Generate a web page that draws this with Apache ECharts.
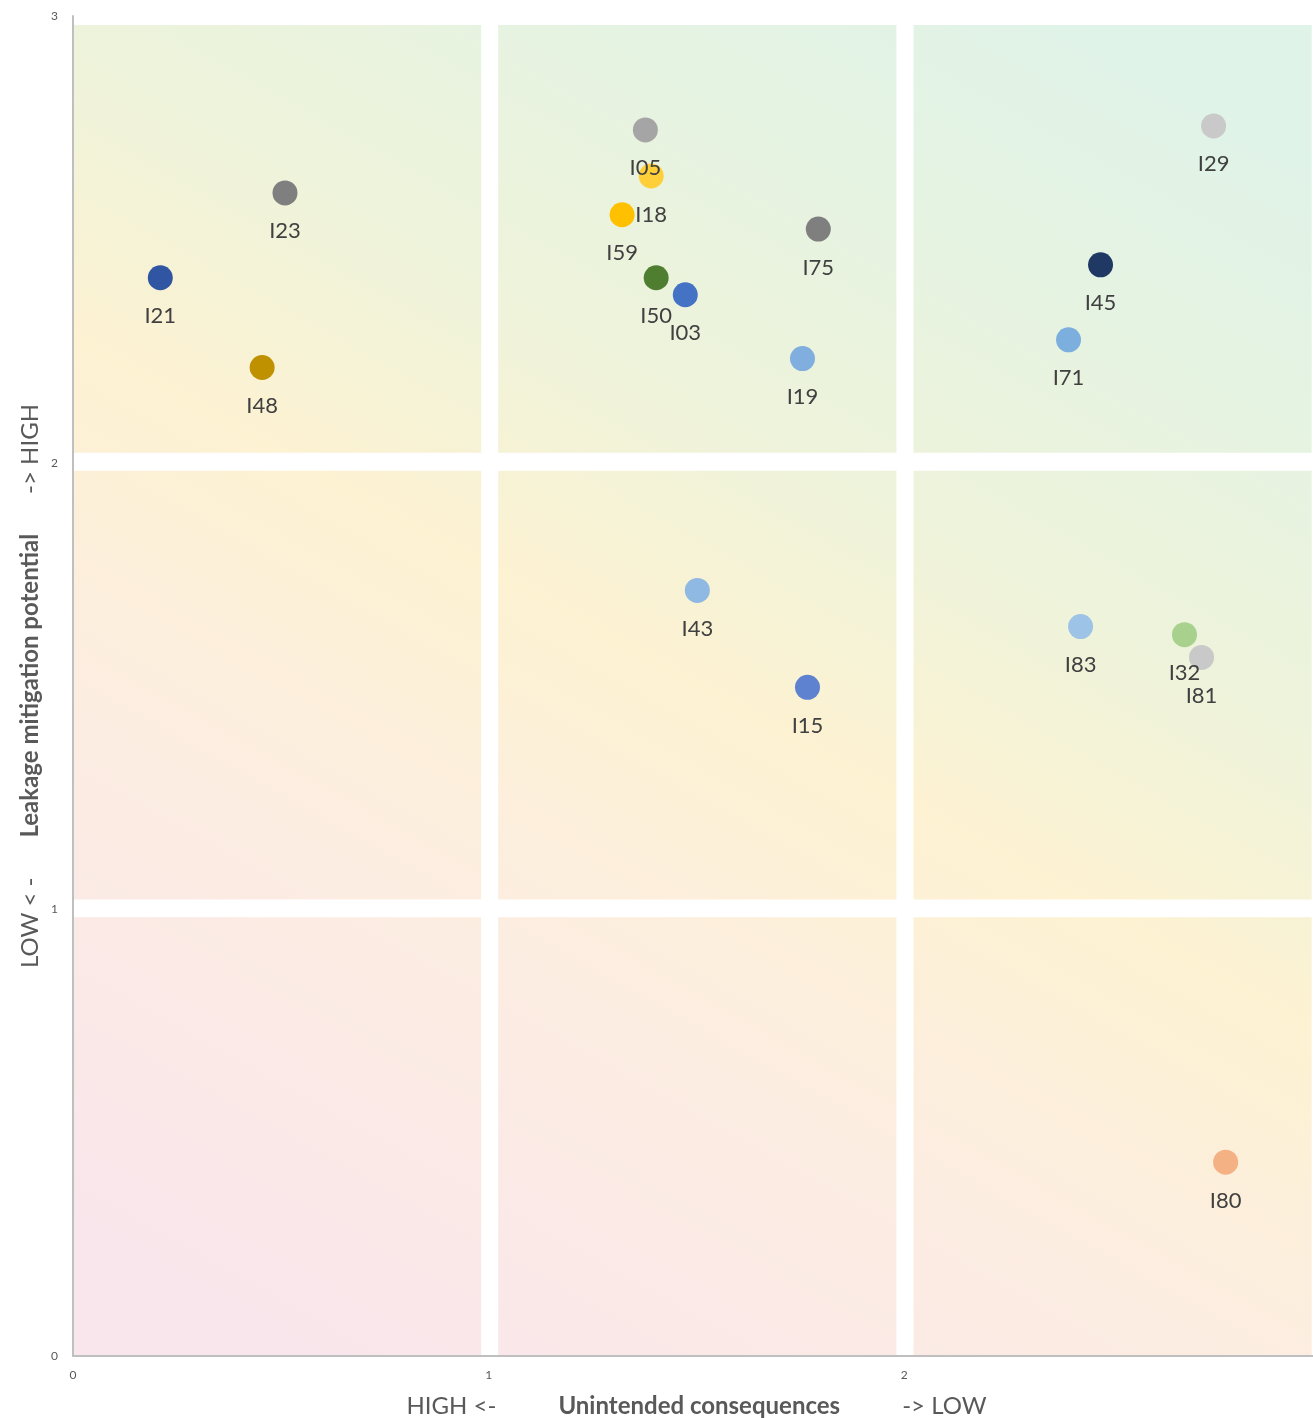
<!DOCTYPE html>
<html>
<head>
<meta charset="utf-8">
<title>Leakage mitigation vs unintended consequences</title>
<script src="https://cdn.jsdelivr.net/npm/echarts@6/dist/echarts.min.js"></script>
<style>
  html, body { margin: 0; padding: 0; background: #fff; }
  #main { width: 1313px; height: 1418px; }
</style>
</head>
<body>
<div id="main"></div>
<script>
// measures
var names  = ['I21', 'I23', 'I48', 'I05', 'I18', 'I59', 'I50', 'I03', 'I75', 'I19',
              'I29', 'I45', 'I71', 'I43', 'I15', 'I83', 'I32', 'I81', 'I80'];
var consequences = [0.21, 0.51, 0.455, 1.377, 1.391, 1.321, 1.403, 1.473, 1.793, 1.755,
                    2.744, 2.472, 2.395, 1.502, 1.767, 2.424, 2.674, 2.715, 2.773];
var mitigation   = [2.414, 2.604, 2.213, 2.745, 2.642, 2.555, 2.414, 2.376, 2.523, 2.233,
                    2.754, 2.443, 2.275, 1.714, 1.497, 1.633, 1.615, 1.564, 0.434];
var pointColors  = ['#2F55A3', '#7F7F7F', '#BF9000', '#A5A5A5', '#FFCF3A', '#FFC000', '#507E31',
                    '#4472C4', '#7F7F7F', '#7FAEDF', '#C9C9C9', '#203864', '#7CAFDD', '#8FB8E3',
                    '#5F82D0', '#9DC3E6', '#A9D18E', '#C9C9C9', '#F4B183'];
var axisTicks = [0, 1, 2, 3];

// white gaps between the nine background cells (data units)
var gapsX = [[0.982, 1.023], [1.981, 2.022], [2.98, 3]];
var gapsY = [[0.982, 1.022], [1.982, 2.022], [2.98, 3]];

var chart = echarts.init(document.getElementById('main'));

var pts = [];
for (var i = 0; i < names.length; i++) {
  pts.push({
    name: names[i],
    value: [consequences[i], mitigation[i]],
    itemStyle: { color: pointColors[i] }
  });
}

var bands = [];
gapsX.forEach(function (g) {
  bands.push([{ xAxis: g[0], yAxis: 0 }, { xAxis: g[1], yAxis: 3 }]);
});
gapsY.forEach(function (g) {
  bands.push([{ xAxis: 0, yAxis: g[0] }, { xAxis: 3, yAxis: g[1] }]);
});

var txt = '#595959';

var option = {
  backgroundColor: '#fff',
  animation: false,
  textStyle: { fontFamily: 'Lato' },
  grid: {
    left: 73, top: 16, width: 1247, height: 1340,
    containLabel: false,
    outerBoundsMode: 'none',
    show: true,
    borderWidth: 0,
    backgroundColor: {
      type: 'linear', x: 0.2, y: 1, x2: 0.8, y2: 0,
      colorStops: [
        { offset: 0, color: '#F9E6EC' },
        { offset: 0.3, color: '#FCEDE1' },
        { offset: 0.5, color: '#FDF2D2' },
        { offset: 0.65, color: '#EFF3DA' },
        { offset: 0.85, color: '#E5F3E2' },
        { offset: 1, color: '#E0F3E8' }
      ]
    }
  },
  xAxis: {
    type: 'value', min: axisTicks[0], max: axisTicks[axisTicks.length - 1], interval: 1,
    z: 5,
    axisLine: { show: true, lineStyle: { color: '#BFBFBF', width: 2 } },
    axisTick: { show: false },
    splitLine: { show: false },
    axisLabel: { color: txt, fontSize: 12, margin: 13 },
    name: '{a|HIGH <-}{b|Unintended consequences}{a|-> LOW}',
    nameLocation: 'middle',
    nameGap: 38,
    nameMoveOverlap: false,
    nameTextStyle: {
      rich: {
        a: { fontFamily: 'Lato', fontSize: 24, color: txt },
        b: { fontFamily: 'Lato', fontSize: 24, fontWeight: 'bold', color: txt, padding: [0, 62] }
      }
    }
  },
  yAxis: {
    type: 'value', min: axisTicks[0], max: axisTicks[axisTicks.length - 1], interval: 1,
    z: 5,
    axisLine: { show: true, lineStyle: { color: '#BFBFBF', width: 2 } },
    axisTick: { show: false },
    splitLine: { show: false },
    axisLabel: { color: txt, fontSize: 12, margin: 15 },
    name: '{a|LOW < -}{b|Leakage mitigation potential}{a|-> HIGH}',
    nameLocation: 'middle',
    nameRotate: 90,
    nameGap: 31,
    nameMoveOverlap: false,
    nameTextStyle: {
      rich: {
        a: { fontFamily: 'Lato', fontSize: 24, color: txt },
        b: { fontFamily: 'Lato', fontSize: 24, fontWeight: 'bold', color: txt, padding: [0, 40] }
      }
    }
  },
  series: [
    {
      type: 'scatter',
      data: [],
      silent: true,
      z: 1,
      markArea: {
        silent: true,
        itemStyle: { color: '#FFFFFF', opacity: 1 },
        label: { show: false },
        data: bands
      }
    },
    {
      type: 'scatter',
      z: 3,
      symbolSize: 25,
      data: pts,
      itemStyle: { opacity: 1 },
      label: {
        show: true,
        position: 'bottom',
        distance: 15,
        formatter: '{b}',
        fontFamily: 'Lato',
        fontSize: 22,
        color: '#404040'
      }
    }
  ]
};
chart.setOption(option);
</script>
</body>
</html>
